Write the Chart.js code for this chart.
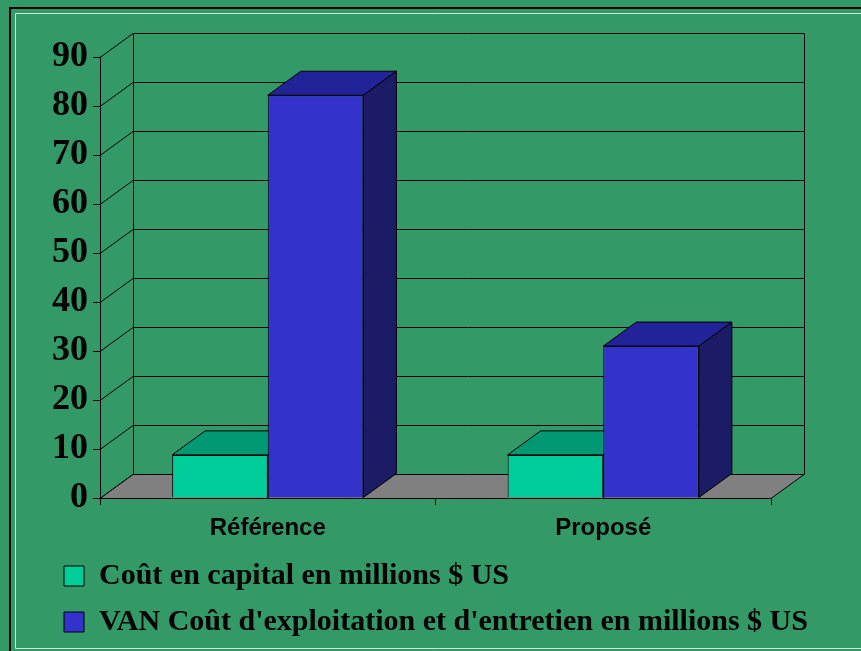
<!DOCTYPE html>
<html>
<head>
<meta charset="utf-8">
<script src="https://cdn.jsdelivr.net/npm/chart.js@4.4.1/dist/chart.umd.min.js"></script>
<style>
  html, body { margin: 0; padding: 0; background: #339966; }
  #wrap { width: 861px; height: 651px; position: relative; }
</style>
</head>
<body>
<div id="wrap"><canvas id="costChart"></canvas></div>
<script>
// data (millions $ US)
const categories = ['Référence', 'Proposé'];
const capitalCost = [8.8, 8.8];
const operatingCost = [82.2, 31];
const seriesNames = [
    'Coût en capital en millions $ US',
    "VAN Coût d'exploitation et d'entretien en millions $ US"
];
const yTickValues = [0, 10, 20, 30, 40, 50, 60, 70, 80, 90];

// 3D depth offset of the back wall
const DEPTH_X = 33;
const DEPTH_Y = -24;

// background + slide frame
const frame = {
    id: 'frame',
    beforeDraw(chart) {
        const ctx = chart.ctx;
        ctx.save();
        ctx.fillStyle = '#339966';
        ctx.fillRect(0, 0, chart.width, chart.height);
        ctx.strokeStyle = '#000';
        ctx.lineWidth = 2;
        ctx.beginPath();
        ctx.moveTo(861, 8);
        ctx.lineTo(10, 8);
        ctx.lineTo(10, 651);
        ctx.stroke();
        ctx.strokeStyle = '#cfe8d6';
        ctx.lineWidth = 1;
        ctx.beginPath();
        ctx.moveTo(861, 13.5);
        ctx.lineTo(15.5, 13.5);
        ctx.lineTo(15.5, 648.5);
        ctx.lineTo(861, 648.5);
        ctx.stroke();
        ctx.restore();
    }
};

// back wall grid, floor, and bar tops/sides
const threeD = {
    id: 'threeD',
    beforeDatasetsDraw(chart) {
        const ctx = chart.ctx;
        const area = chart.chartArea;
        const y = chart.scales.y;
        ctx.save();
        ctx.strokeStyle = '#000';
        ctx.lineWidth = 1;

        // walls
        yTickValues.forEach(v => {
            const py = Math.round(y.getPixelForValue(v)) + 0.5;
            ctx.beginPath();
            ctx.moveTo(area.left, py);
            ctx.lineTo(area.left + DEPTH_X, py + DEPTH_Y);
            if (v !== 0) ctx.lineTo(area.right + DEPTH_X, py + DEPTH_Y);
            ctx.stroke();
        });
        const topY = Math.round(area.top) + 0.5 + DEPTH_Y;
        const botY = Math.round(area.bottom) + 0.5 + DEPTH_Y;
        ctx.beginPath();
        ctx.moveTo(area.left + DEPTH_X + 0.5, topY);
        ctx.lineTo(area.left + DEPTH_X + 0.5, botY);
        ctx.moveTo(area.right + DEPTH_X + 0.5, topY);
        ctx.lineTo(area.right + DEPTH_X + 0.5, botY);
        ctx.stroke();

        // floor
        const fb = Math.round(area.bottom) + 0.5;
        ctx.fillStyle = '#808080';
        ctx.beginPath();
        ctx.moveTo(area.left, fb);
        ctx.lineTo(area.right, fb);
        ctx.lineTo(area.right + DEPTH_X, fb + DEPTH_Y);
        ctx.lineTo(area.left + DEPTH_X, fb + DEPTH_Y);
        ctx.closePath();
        ctx.fill();
        ctx.stroke();

        // bar tops and right sides
        chart.data.datasets.forEach((ds, i) => {
            const meta = chart.getDatasetMeta(i);
            meta.data.forEach(bar => {
                const p = bar.getProps(['x', 'y', 'base', 'width'], true);
                const l = p.x - p.width / 2, r = p.x + p.width / 2;
                ctx.fillStyle = ds.topColor;
                ctx.beginPath();
                ctx.moveTo(l, p.y);
                ctx.lineTo(r, p.y);
                ctx.lineTo(r + DEPTH_X, p.y + DEPTH_Y);
                ctx.lineTo(l + DEPTH_X, p.y + DEPTH_Y);
                ctx.closePath();
                ctx.fill();
                ctx.stroke();
                ctx.fillStyle = ds.sideColor;
                ctx.beginPath();
                ctx.moveTo(r, p.y);
                ctx.lineTo(r + DEPTH_X, p.y + DEPTH_Y);
                ctx.lineTo(r + DEPTH_X, p.base + DEPTH_Y);
                ctx.lineTo(r, p.base);
                ctx.closePath();
                ctx.fill();
                ctx.stroke();
            });
        });
        ctx.restore();
    }
};

new Chart(document.getElementById('costChart'), {
    type: 'bar',
    data: {
        labels: categories,
        datasets: [{
            label: seriesNames[0],
            data: capitalCost,
            backgroundColor: '#00cc99',
            topColor: '#009973',
            sideColor: '#006b50',
            borderColor: '#000',
            borderWidth: 1
        }, {
            label: seriesNames[1],
            data: operatingCost,
            backgroundColor: '#3333cc',
            topColor: '#232399',
            sideColor: '#1c1c66',
            borderColor: '#000',
            borderWidth: 1
        }]
    },
    options: {
        responsive: true,
        maintainAspectRatio: false,
        animation: false,
        devicePixelRatio: 1,
        categoryPercentage: 0.57,
        barPercentage: 1.0,
        layout: { padding: { left: 48, right: 0, top: 57, bottom: 4 } },
        plugins: {
            tooltip: { enabled: false },
            legend: {
                position: 'bottom',
                align: 'start',
                labels: {
                    boxWidth: 20,
                    boxHeight: 20,
                    padding: 16,
                    color: '#000',
                    font: { family: 'Liberation Serif', size: 30, weight: 'bold' }
                }
            }
        },
        scales: {
            x: {
                afterFit: s => { s.height = 47; },
                grid: { drawOnChartArea: false, tickLength: 7, color: '#000' },
                border: { color: '#000' },
                ticks: {
                    color: '#000',
                    padding: 9,
                    font: { family: 'Liberation Sans', size: 24, weight: 'bold' }
                }
            },
            y: {
                min: 0,
                max: 90,
                afterFit: s => { s.width = 52; },
                afterBuildTicks: s => { s.ticks = yTickValues.map(v => ({ value: v })); },
                grid: { drawOnChartArea: false, tickLength: 7, color: '#000' },
                border: { color: '#000' },
                ticks: {
                    color: '#000',
                    padding: 5,
                    font: { family: 'Liberation Serif', size: 36, weight: 'bold' }
                }
            },
            // empty right-hand band: room for the back wall depth
            depth: {
                type: 'linear',
                position: 'right',
                afterFit: s => { s.width = 90; },
                grid: { display: false },
                border: { display: false },
                ticks: { display: false }
            }
        }
    },
    plugins: [frame, threeD]
});
</script>
</body>
</html>
